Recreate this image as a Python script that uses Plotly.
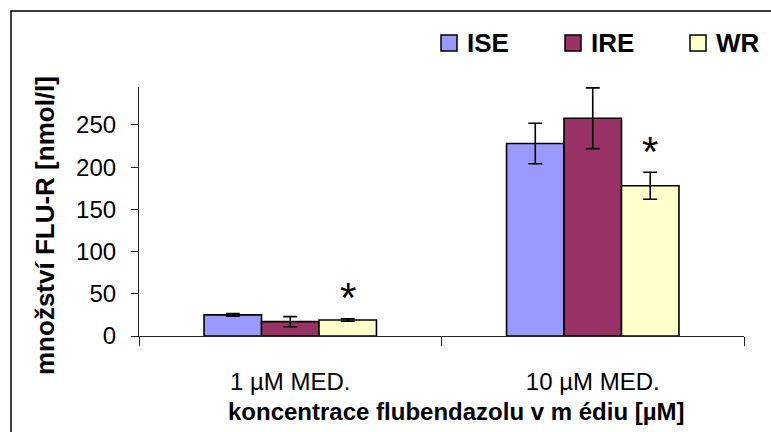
import plotly.graph_objects as go

# Data
categories = ["1 µM MED.", "10 µM MED."]
series_names = ["ISE", "IRE", "WR"]
ise_values = [25, 228]
ire_values = [17, 258]
wr_values = [19, 178]
ise_err = [1.5, 24]
ire_err = [6, 36]
wr_err = [1.5, 16]
significant_wr = [True, True]

y_ticks = [0, 50, 100, 150, 200, 250]

colors = ["#9999FF", "#993366", "#FFFFCC"]
FONT = "Liberation Sans, Arial, sans-serif"

W, H = 771, 432
L, R, T, B = 139, 27, 87, 96
PW, PH = W - L - R, H - T - B
BARGAP = 0.43


def px_to_paper(x, y):
    return (x - L) / PW, (H - B - y) / PH


fig = go.Figure()
for name, vals, errs, col in zip(series_names,
                                 [ise_values, ire_values, wr_values],
                                 [ise_err, ire_err, wr_err], colors):
    fig.add_trace(go.Bar(
        x=categories, y=vals, name=name,
        marker=dict(color=col, line=dict(color="black", width=1.6)),
        error_y=dict(type="data", array=errs, visible=True,
                     color="black", thickness=1.6, width=7),
        showlegend=False,
    ))

shapes = []
annotations = []

# outer frame
fx0, fy0 = px_to_paper(11, 11)
fx1, fy1 = px_to_paper(W + 20, H + 20)
shapes.append(dict(type="rect", xref="paper", yref="paper",
                   x0=fx0, y0=fy1, x1=fx1, y1=fy0,
                   line=dict(color="black", width=1.5), fillcolor="rgba(0,0,0,0)"))

# legend drawn as swatches + labels
legend_x = [441, 565, 690]
for name, col, lx in zip(series_names, colors, legend_x):
    bx0, by0 = px_to_paper(lx, 35)
    bx1, by1 = px_to_paper(lx + 16, 51)
    shapes.append(dict(type="rect", xref="paper", yref="paper",
                       x0=bx0, x1=bx1, y0=by1, y1=by0,
                       line=dict(color="black", width=1.5), fillcolor=col))
    tx, ty = px_to_paper(lx + 24, 43)
    annotations.append(dict(x=tx, y=ty, xref="paper", yref="paper",
                            text=f"<b>{name}</b>", showarrow=False,
                            xanchor="left", yanchor="middle",
                            font=dict(family=FONT, size=26, color="black")))

# significance markers above WR bars
wr_offset = (1 - BARGAP) / 3
for i, (v, e, sig) in enumerate(zip(wr_values, wr_err, significant_wr)):
    if sig:
        annotations.append(dict(x=i + wr_offset, y=v + e + 25, xref="x", yref="y",
                                text="*", showarrow=False, yanchor="middle",
                                font=dict(family=FONT, size=42, color="black")))

# axis titles
yx, yy = px_to_paper(45, 226)
annotations.append(dict(x=yx, y=yy, xref="paper", yref="paper",
                        text="<b>množství FLU-R [nmol/l]</b>", textangle=-90,
                        showarrow=False, xanchor="center", yanchor="middle",
                        font=dict(family=FONT, size=26, color="black")))
xx, xy = px_to_paper(456, 411)
annotations.append(dict(x=xx, y=xy, xref="paper", yref="paper",
                        text="<b>koncentrace flubendazolu v m édiu [µM]</b>",
                        showarrow=False, xanchor="center", yanchor="middle",
                        font=dict(family=FONT, size=24, color="black")))

fig.update_layout(
    width=W, height=H,
    margin=dict(l=L, r=R, t=T, b=B, pad=0),
    paper_bgcolor="white", plot_bgcolor="white",
    barmode="group", bargap=BARGAP, bargroupgap=0,
    font=dict(family=FONT, size=24, color="black"),
    shapes=shapes, annotations=annotations,
    xaxis=dict(type="category", range=[-0.5, 1.5], showline=True,
               linecolor="#222", linewidth=1.2, ticks="outside",
               tickson="boundaries", ticklen=9, tickcolor="#222",
               tickwidth=1.2, showgrid=False, zeroline=False,
               ticklabelstandoff=24,
               tickfont=dict(family=FONT, size=24, color="black")),
    yaxis=dict(range=[0, 295], tickvals=y_ticks, showline=True,
               linecolor="#222", linewidth=1.2, ticks="outside",
               ticklen=7, tickcolor="#222", tickwidth=1.2,
               showgrid=False, zeroline=False, ticklabelstandoff=10,
               tickfont=dict(family=FONT, size=24, color="black")),
)

fig.write_html("out.html")
